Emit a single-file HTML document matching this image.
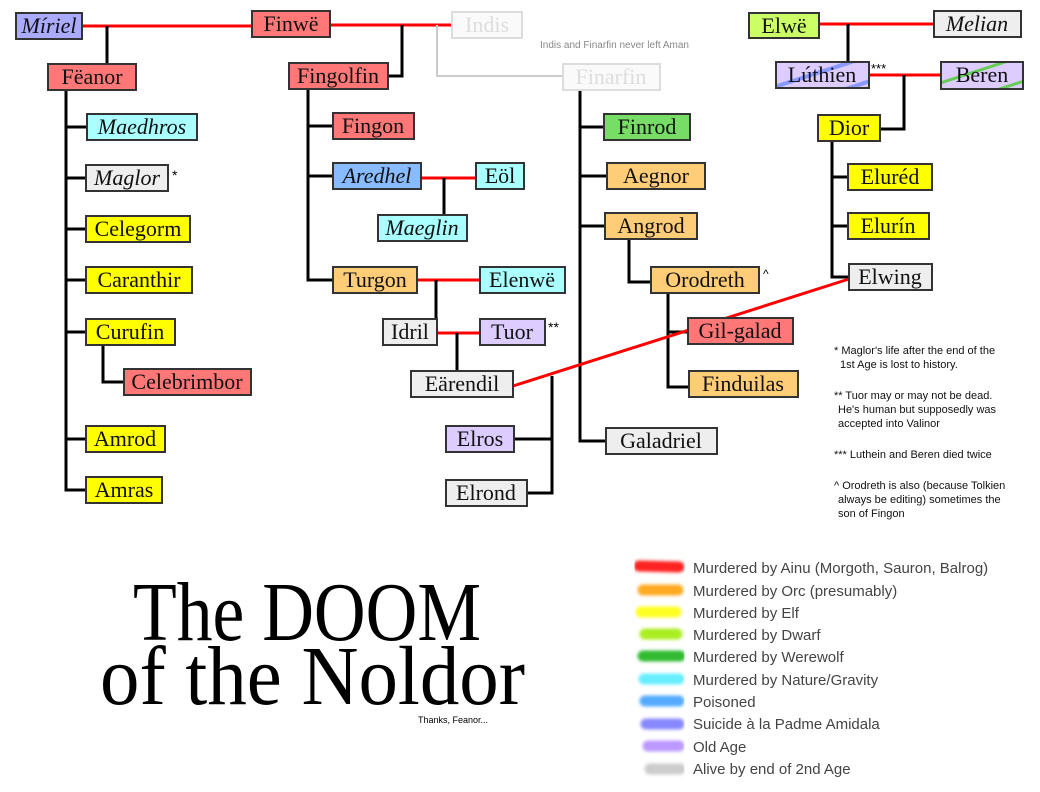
<!DOCTYPE html>
<html><head><meta charset="utf-8"><style>
html,body{margin:0;padding:0;background:#fff;width:1040px;height:792px;overflow:hidden}
svg{display:block}
.b{stroke:#333;stroke-width:2}
.t{font-family:"Liberation Serif",serif;font-size:22px;fill:#111}
.k{stroke:#000;stroke-width:3;fill:none}
.r{stroke:#f00;stroke-width:3;fill:none}
.n{font-family:"Liberation Sans",sans-serif;font-size:11px;fill:#111}
.l{font-family:"Liberation Sans",sans-serif;font-size:15px;fill:#444}
</style></head><body>
<svg width="1040" height="792" viewBox="0 0 1040 792" xmlns="http://www.w3.org/2000/svg">
<defs>
<pattern id="pb" width="24" height="24" patternUnits="userSpaceOnUse" patternTransform="rotate(-18)"><rect width="24" height="24" fill="#ddccff"/><rect y="8" width="24" height="4" fill="#8899ff"/></pattern>
<pattern id="pg" width="24" height="24" patternUnits="userSpaceOnUse" patternTransform="rotate(-18)"><rect width="24" height="24" fill="#ddccff"/><rect y="8" width="24" height="3" fill="#66cc55"/></pattern>
<filter id="bl"><feGaussianBlur stdDeviation="1.5"/></filter>
</defs>
<g>
<line class="r" x1="82" y1="26" x2="252" y2="26"/>
<line class="r" x1="330" y1="25" x2="452" y2="25"/>
<polyline class="k" points="107,26 107,64"/>
<polyline class="k" points="402,25 402,76 388,76"/>
<polyline points="437,25 437,76 563,76" stroke="#ccc" stroke-width="2" fill="none"/>
<polyline class="k" points="66,90 66,490 86,490"/>
<line class="k" x1="66" y1="127" x2="87" y2="127"/>
<line class="k" x1="66" y1="178" x2="86" y2="178"/>
<line class="k" x1="66" y1="229" x2="86" y2="229"/>
<line class="k" x1="66" y1="280" x2="86" y2="280"/>
<line class="k" x1="66" y1="332" x2="86" y2="332"/>
<line class="k" x1="66" y1="439" x2="86" y2="439"/>
<polyline class="k" points="103,345 103,382 124,382"/>
<polyline class="k" points="308,89 308,280 333,280"/>
<line class="k" x1="308" y1="126" x2="333" y2="126"/>
<line class="k" x1="308" y1="176" x2="333" y2="176"/>
<line class="r" x1="421" y1="178" x2="476" y2="178"/>
<line class="k" x1="444" y1="178" x2="444" y2="215"/>
<line class="r" x1="417" y1="280" x2="480" y2="280"/>
<line class="k" x1="436" y1="280" x2="436" y2="332"/>
<line class="r" x1="437" y1="333" x2="480" y2="333"/>
<line class="k" x1="457" y1="333" x2="457" y2="371"/>
<polyline class="k" points="552,376 552,493 527,493"/>
<line class="k" x1="514" y1="439" x2="552" y2="439"/>
<polyline class="k" points="580,90 580,441 606,441"/>
<line class="k" x1="580" y1="127" x2="604" y2="127"/>
<line class="k" x1="580" y1="176" x2="607" y2="176"/>
<line class="k" x1="580" y1="226" x2="605" y2="226"/>
<polyline class="k" points="629,239 629,282 651,282"/>
<polyline class="k" points="668,293 668,387 689,387"/>
<line class="k" x1="668" y1="332" x2="688" y2="332"/>
<line class="r" x1="819" y1="24" x2="934" y2="24"/>
<line class="k" x1="848" y1="24" x2="848" y2="63"/>
<line class="r" x1="869" y1="75" x2="941" y2="75"/>
<polyline class="k" points="904,75 904,129 880,129"/>
<polyline class="k" points="832,141 832,277 849,277"/>
<line class="k" x1="832" y1="177" x2="848" y2="177"/>
<line class="k" x1="832" y1="226" x2="848" y2="226"/>
<line class="r" x1="513" y1="386" x2="849" y2="279"/>
</g>
<g>
<rect class="b" x="16" y="13" width="66" height="26" fill="#aaaaff"/><text class="t" x="49" y="33" text-anchor="middle" font-style="italic">Míriel</text>
<rect class="b" x="252" y="11" width="78" height="26" fill="#ff7777"/><text class="t" x="291" y="31" text-anchor="middle">Finwë</text>
<rect x="452" y="12" width="70" height="26" fill="#fafafa" stroke="#ddd" stroke-width="2"/><text class="t" x="487" y="32" text-anchor="middle" style="fill:#ddd">Indis</text>
<text x="540" y="48" font-family="Liberation Sans,sans-serif" font-size="10" fill="#888">Indis and Finarfin never left Aman</text>
<rect class="b" x="48" y="64" width="88" height="26" fill="#ff7777"/><text class="t" x="92" y="84" text-anchor="middle">Fëanor</text>
<rect class="b" x="289" y="63" width="99" height="26" fill="#ff7777"/><text class="t" x="338" y="83" text-anchor="middle">Fingolfin</text>
<rect x="563" y="64" width="97" height="26" fill="#fafafa" stroke="#ddd" stroke-width="2"/><text class="t" x="611" y="84" text-anchor="middle" style="fill:#ddd">Finarfin</text>
<rect class="b" x="87" y="114" width="110" height="26" fill="#aaffff"/><text class="t" x="142" y="134" text-anchor="middle" font-style="italic">Maedhros</text>
<rect class="b" x="86" y="165" width="82" height="26" fill="#eeeeee"/><text class="t" x="127" y="185" text-anchor="middle" font-style="italic">Maglor</text>
<text x="172" y="180" font-family="Liberation Sans,sans-serif" font-size="14">*</text>
<rect class="b" x="86" y="216" width="104" height="26" fill="#ffff00"/><text class="t" x="138" y="236" text-anchor="middle">Celegorm</text>
<rect class="b" x="86" y="267" width="106" height="26" fill="#ffff00"/><text class="t" x="139" y="287" text-anchor="middle">Caranthir</text>
<rect class="b" x="86" y="319" width="89" height="26" fill="#ffff00"/><text class="t" x="130" y="339" text-anchor="middle">Curufin</text>
<rect class="b" x="124" y="369" width="127" height="26" fill="#ff7777"/><text class="t" x="187" y="389" text-anchor="middle">Celebrimbor</text>
<rect class="b" x="86" y="426" width="79" height="26" fill="#ffff00"/><text class="t" x="125" y="446" text-anchor="middle">Amrod</text>
<rect class="b" x="86" y="477" width="76" height="26" fill="#ffff00"/><text class="t" x="124" y="497" text-anchor="middle">Amras</text>
<rect class="b" x="333" y="113" width="81" height="26" fill="#ff7777"/><text class="t" x="373" y="133" text-anchor="middle">Fingon</text>
<rect class="b" x="333" y="163" width="88" height="26" fill="#88bbff"/><text class="t" x="377" y="183" text-anchor="middle" font-style="italic">Aredhel</text>
<rect class="b" x="476" y="163" width="48" height="26" fill="#aaffff"/><text class="t" x="500" y="183" text-anchor="middle">Eöl</text>
<rect class="b" x="378" y="215" width="89" height="26" fill="#aaffff"/><text class="t" x="422" y="235" text-anchor="middle" font-style="italic">Maeglin</text>
<rect class="b" x="333" y="267" width="84" height="26" fill="#ffcc77"/><text class="t" x="375" y="287" text-anchor="middle">Turgon</text>
<rect class="b" x="480" y="267" width="85" height="26" fill="#aaffff"/><text class="t" x="522" y="287" text-anchor="middle">Elenwë</text>
<rect class="b" x="383" y="319" width="54" height="26" fill="#eeeeee"/><text class="t" x="410" y="339" text-anchor="middle">Idril</text>
<rect class="b" x="480" y="319" width="65" height="26" fill="#ddccff"/><text class="t" x="512" y="339" text-anchor="middle">Tuor</text>
<text x="548" y="332" font-family="Liberation Sans,sans-serif" font-size="14">**</text>
<rect class="b" x="411" y="371" width="102" height="26" fill="#eeeeee"/><text class="t" x="462" y="391" text-anchor="middle">Eärendil</text>
<rect class="b" x="446" y="426" width="68" height="26" fill="#ddccff"/><text class="t" x="480" y="446" text-anchor="middle">Elros</text>
<rect class="b" x="446" y="480" width="81" height="26" fill="#eeeeee"/><text class="t" x="486" y="500" text-anchor="middle">Elrond</text>
<rect class="b" x="604" y="114" width="86" height="26" fill="#77dd66"/><text class="t" x="647" y="134" text-anchor="middle">Finrod</text>
<rect class="b" x="607" y="163" width="98" height="26" fill="#ffcc77"/><text class="t" x="656" y="183" text-anchor="middle">Aegnor</text>
<rect class="b" x="605" y="213" width="92" height="26" fill="#ffcc77"/><text class="t" x="651" y="233" text-anchor="middle">Angrod</text>
<rect class="b" x="651" y="267" width="108" height="26" fill="#ffcc77"/><text class="t" x="705" y="287" text-anchor="middle">Orodreth</text>
<text x="763" y="278" font-family="Liberation Sans,sans-serif" font-size="12">^</text>
<rect class="b" x="688" y="318" width="105" height="26" fill="#ff7777"/><text class="t" x="740" y="338" text-anchor="middle">Gil-galad</text>
<rect class="b" x="689" y="371" width="109" height="26" fill="#ffcc77"/><text class="t" x="743" y="391" text-anchor="middle">Finduilas</text>
<rect class="b" x="606" y="428" width="111" height="26" fill="#eeeeee"/><text class="t" x="661" y="448" text-anchor="middle">Galadriel</text>
<rect class="b" x="749" y="13" width="70" height="25" fill="#ccff66"/><text class="t" x="784" y="33" text-anchor="middle">Elwë</text>
<rect class="b" x="934" y="11" width="87" height="26" fill="#eeeeee"/><text class="t" x="977" y="31" text-anchor="middle" font-style="italic">Melian</text>
<rect class="b" x="776" y="62" width="93" height="26" fill="url(#pb)"/><text class="t" x="822" y="82" text-anchor="middle">Lúthien</text>
<text x="871" y="73" font-family="Liberation Sans,sans-serif" font-size="13">***</text>
<rect class="b" x="941" y="62" width="82" height="27" fill="url(#pg)"/><text class="t" x="982" y="82" text-anchor="middle">Beren</text>
<rect class="b" x="818" y="115" width="62" height="26" fill="#ffff00"/><text class="t" x="849" y="135" text-anchor="middle">Dior</text>
<rect class="b" x="848" y="164" width="84" height="26" fill="#ffff00"/><text class="t" x="890" y="184" text-anchor="middle">Eluréd</text>
<rect class="b" x="848" y="213" width="81" height="26" fill="#ffff00"/><text class="t" x="888" y="233" text-anchor="middle">Elurín</text>
<rect class="b" x="849" y="264" width="83" height="26" fill="#eeeeee"/><text class="t" x="890" y="284" text-anchor="middle">Elwing</text>
</g>
<g class="n">
<text x="834" y="354">* Maglor's life after the end of the</text>
<text x="840" y="368">1st Age is lost to history.</text>
<text x="834" y="399">** Tuor may or may not be dead.</text>
<text x="838" y="413">He's human but supposedly was</text>
<text x="838" y="427">accepted into Valinor</text>
<text x="834" y="458">*** Luthein and Beren died twice</text>
<text x="834" y="489">^ Orodreth is also (because Tolkien</text>
<text x="838" y="503">always be editing) sometimes the</text>
<text x="838" y="517">son of Fingon</text>
</g>
<text x="133" y="640" font-family="Liberation Serif,serif" font-size="84" textLength="348" lengthAdjust="spacingAndGlyphs">The DOOM</text>
<text x="100" y="704" font-family="Liberation Serif,serif" font-size="84" textLength="425" lengthAdjust="spacingAndGlyphs">of the Noldor</text>
<text x="418" y="723" font-family="Liberation Sans,sans-serif" font-size="9">Thanks, Feanor...</text>
<g filter="url(#bl)" stroke-linecap="round" stroke-width="11">
<line x1="639" y1="566" x2="679" y2="567" stroke="#ff2222"/>
<line x1="643" y1="590" x2="678" y2="590" stroke="#ffaa22"/>
<line x1="641" y1="612" x2="676" y2="612" stroke="#ffff22"/>
<line x1="645" y1="634" x2="677" y2="634" stroke="#aaee22"/>
<line x1="643" y1="656" x2="680" y2="656" stroke="#33bb33"/>
<line x1="644" y1="679" x2="679" y2="679" stroke="#66eeff"/>
<line x1="645" y1="701" x2="679" y2="701" stroke="#55aaff"/>
<line x1="646" y1="724" x2="679" y2="724" stroke="#8888ff"/>
<line x1="648" y1="746" x2="679" y2="746" stroke="#bb99ff"/>
<line x1="650" y1="769" x2="680" y2="769" stroke="#cccccc"/>
</g>
<g class="l">
<text x="693" y="573">Murdered by Ainu (Morgoth, Sauron, Balrog)</text>
<text x="693" y="596">Murdered by Orc (presumably)</text>
<text x="693" y="618">Murdered by Elf</text>
<text x="693" y="640">Murdered by Dwarf</text>
<text x="693" y="662">Murdered by Werewolf</text>
<text x="693" y="685">Murdered by Nature/Gravity</text>
<text x="693" y="707">Poisoned</text>
<text x="693" y="729">Suicide à la Padme Amidala</text>
<text x="693" y="752">Old Age</text>
<text x="693" y="774">Alive by end of 2nd Age</text>
</g>
</svg>
</body></html>
